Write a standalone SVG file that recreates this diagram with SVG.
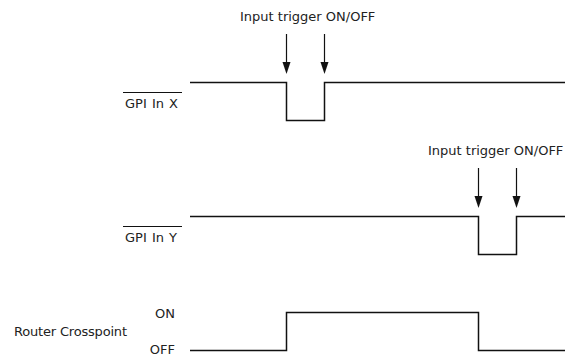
<svg xmlns="http://www.w3.org/2000/svg" width="565" height="360" viewBox="0 0 565 360">
<style>
text{font-family:"DejaVu Sans",Verdana,sans-serif;font-size:13px;fill:#222}
.gpi{word-spacing:1px}
.sig{fill:none;stroke:#111;stroke-width:1.5}
.arr{stroke:#111;stroke-width:1.2;fill:none}
.head{fill:#111}
.ov{stroke:#111;stroke-width:1}
</style>
<g id="trigger-x">
<text x="240" y="20.5">Input trigger ON/OFF</text>
</g>
<g id="trigger-y">
<text x="428" y="154.5">Input trigger ON/OFF</text>
</g>
<g id="gpi-x">
<line class="ov" x1="123" y1="92.5" x2="182" y2="92.5"/>
<text class="gpi" x="125" y="107.5">GPI In X</text>
</g>
<g id="gpi-y">
<line class="ov" x1="123" y1="226.5" x2="182" y2="226.5"/>
<text class="gpi" x="125" y="241.5">GPI In Y</text>
</g>
<g id="router">
<text x="14" y="336" textLength="113">Router Crosspoint</text>
<text x="175" y="318" text-anchor="end">ON</text>
<text x="175" y="354" text-anchor="end">OFF</text>
</g>
<g id="connectors">
<path class="sig" d="M190,82.5 H286.5 V120.5 H324.5 V82.5 H565"/>
<path class="sig" d="M190,216.5 H478.5 V254.5 H516.5 V216.5 H565"/>
<path class="sig" d="M190,350.5 H286.5 V312.5 H478.5 V350.5 H565"/>
<path d="M286.5,34 V63" class="arr"/><path class="head" d="M282.5,62 H290.5 L286.5,74 Z"/>
<path d="M324.5,34 V63" class="arr"/><path class="head" d="M320.5,62 H328.5 L324.5,74 Z"/>
<path d="M478.5,168 V197" class="arr"/><path class="head" d="M474.5,196 H482.5 L478.5,208 Z"/>
<path d="M516.5,168 V197" class="arr"/><path class="head" d="M512.5,196 H520.5 L516.5,208 Z"/>
</g>
</svg>
